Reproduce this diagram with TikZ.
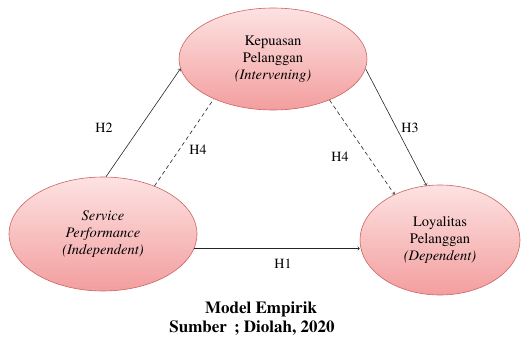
\documentclass[tikz,border=0pt]{standalone}
\usepackage[T1]{fontenc}
\usepackage{times}
\usetikzlibrary{arrows, shapes.geometric}
\definecolor{pinktop}{RGB}{253,226,226}
\definecolor{pinkbot}{RGB}{243,158,158}
\definecolor{pinkline}{RGB}{205,100,100}
\tikzset{
    >=to,
    construct/.style={ellipse, draw=pinkline, semithick, top color=pinktop, bottom color=pinkbot,
        align=center, inner sep=0pt, font=\fontsize{14.5}{17}\selectfont},
    path/.style={->, semithick, black!85},
    indirect/.style={path, dash pattern=on 4pt off 3pt},
    hlabel/.style={font=\fontsize{14}{16}\selectfont},
    caption/.style={font=\fontsize{17}{19}\selectfont\bfseries},
}

\begin{document}
\begin{tikzpicture}[x=1pt, y=1pt]
    \node[construct, minimum width=188, minimum height=102] (T) at (273,290)
        {Kepuasan\\Pelanggan\\\textit{(Intervening)}};
    \node[construct, minimum width=188, minimum height=114] (L) at (103,115)
        {\textit{Service}\\\textit{Performance}\\\textit{(Independent)}};
    \node[construct, minimum width=160, minimum height=110] (R) at (440,109)
        {Loyalitas\\Pelanggan\\\textit{(Dependent)}};
    \draw[path] (L.87) -- (T.186);
    \draw[path] (T.354) -- (R.104);
    \draw[indirect, -] (L.43) -- (T.214);
    \draw[indirect] (T.324) -- (R.135);
    \draw[path] (L.-9) -- (L.-9 -| R.west);
    \node[hlabel] (h2) at (104,221) {H2};
    \node[hlabel] (h4a) at (198,199) {H4};
    \node[hlabel] (h4b) at (340,192) {H4};
    \node[hlabel] (h3) at (410,221) {H3};
    \node[hlabel] (h1) at (283,85) {H1};
    \node[caption] (model) at (261,40) {Model Empirik};
    \node[caption] (sumber) at (252,21) {Sumber\, ; Diolah, 2020};
    \useasboundingbox (0,0) rectangle (522,349);
\end{tikzpicture}
\end{document}
